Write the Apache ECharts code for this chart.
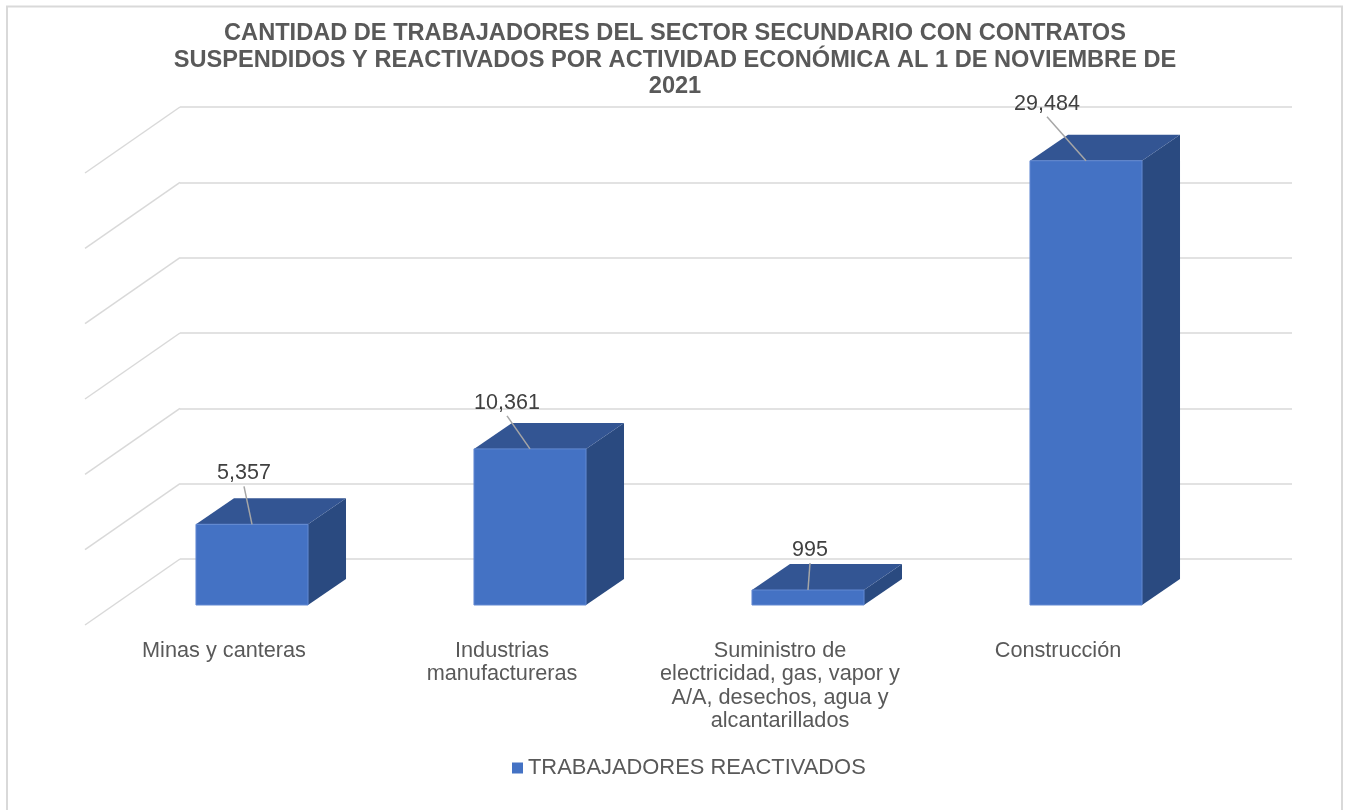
<!DOCTYPE html>
<html>
<head>
<meta charset="utf-8">
<title>Trabajadores reactivados</title>
<script src="https://cdn.jsdelivr.net/npm/echarts@6/dist/echarts.min.js"></script>
<style>
	html, body { margin: 0; padding: 0; background: #fff; }
	#chart { width: 1349px; height: 810px; }
</style>
</head>
<body>
<div id="chart"></div>
<script>
const titleLines = [
	'CANTIDAD DE TRABAJADORES DEL SECTOR SECUNDARIO CON CONTRATOS',
	'SUSPENDIDOS Y REACTIVADOS POR ACTIVIDAD ECONÓMICA AL 1 DE NOVIEMBRE DE',
	'2021'
];
const categories = [
	'Minas y canteras',
	'Industrias\nmanufactureras',
	'Suministro de\nelectricidad, gas, vapor y\nA/A, desechos, agua y\nalcantarillados',
	'Construcción'
];
const seriesName = 'TRABAJADORES REACTIVADOS';
const reactivados = [5357, 10361, 995, 29484];
const wallTicks = [0, 5000, 10000, 15000, 20000, 25000, 30000];

//desplazamiento de la etiqueta respecto al centro de la cara superior
const labelShift = [[-8, -51], [-23, -46], [2, -40], [-39, -57]];

//perspectiva: cuanto se mueve un punto del plano de las barras hacia el fondo
const barDepth = [38, -26];
const wallBack = [67, -46];
const wallFront = [-28, 20];
const barRatio = 0.403;

const colorFront = '#4472c4';
const colorEdge = '#6289d2';
const colorTop = '#335593';
const colorSide = '#2a4a80';
const colorGrid = '#d9d9d9';
const colorText = '#595959';
const fontName = '"Liberation Sans", Arial, sans-serif';

//paredes laterales (lineas diagonales)
function renderWall(params, api) {
	const p = api.coord([0, api.value(0)]);
	const left = p[0] - api.size([1, 0])[0] / 2;
	return {
		type: 'line',
		shape: {
			x1: left + wallFront[0],
			y1: p[1] + wallFront[1],
			x2: left + wallBack[0],
			y2: p[1] + wallBack[1]
		},
		style: { stroke: colorGrid, lineWidth: 1.5 }
	};
}

//barra 3D: frente, tapa, costado, linea guia y etiqueta
function renderBar(params, api) {
	const i = api.value(0);
	const top = api.coord([i, api.value(1)]);
	const base = api.coord([i, 0]);
	const w = api.size([1, 0])[0] * barRatio;
	const x0 = top[0] - w / 2;
	const x1 = top[0] + w / 2;
	const dx = barDepth[0];
	const dy = barDepth[1];
	const shift = labelShift[i];
	const lx = top[0] + shift[0];
	const ly = top[1] + shift[1];
	return {
		type: 'group',
		children: [
			{
				type: 'polygon',
				shape: { points: [[x1, top[1]], [x1 + dx, top[1] + dy], [x1 + dx, base[1] + dy], [x1, base[1]]] },
				style: { fill: colorSide }
			},
			{
				type: 'polygon',
				shape: { points: [[x0, top[1]], [x0 + dx, top[1] + dy], [x1 + dx, top[1] + dy], [x1, top[1]]] },
				style: { fill: colorTop }
			},
			{
				type: 'rect',
				shape: { x: x0, y: top[1], width: w, height: base[1] - top[1] },
				style: { fill: colorFront, stroke: colorEdge, lineWidth: 1 }
			},
			{
				type: 'line',
				shape: { x1: lx, y1: ly + 13, x2: top[0], y2: top[1] },
				style: { stroke: '#a6a6a6', lineWidth: 1.5 }
			},
			{
				type: 'text',
				style: {
					x: lx,
					y: ly,
					text: api.value(1).toLocaleString('en-US'),
					fill: '#404040',
					font: '21.5px ' + fontName,
					align: 'center',
					verticalAlign: 'middle'
				}
			}
		]
	};
}

const chart = echarts.init(document.getElementById('chart'));
chart.setOption({
	animation: false,
	backgroundColor: '#fff',
	title: {
		text: titleLines.join('\n'),
		left: 670,
		top: 15.5,
		textAlign: 'center',
		textStyle: {
			color: colorText,
			fontFamily: fontName,
			fontWeight: 'bold',
			fontSize: 23.6,
			lineHeight: 26.5
		}
	},
	legend: {
		data: [seriesName],
		left: 507,
		top: 752,
		icon: 'rect',
		itemWidth: 11,
		itemHeight: 11,
		selectedMode: false,
		textStyle: { color: colorText, fontFamily: fontName, fontSize: 21.9 }
	},
	//0: borde del piso (etiquetas), 1: plano de las barras, 2: pared del fondo
	grid: [
		{ left: 85, top: 173, width: 1112, height: 452, outerBoundsMode: 'none' },
		{ left: 113, top: 153, width: 1112, height: 452, outerBoundsMode: 'none' },
		{ left: 180, top: 107, width: 1112, height: 452, outerBoundsMode: 'none' }
	],
	xAxis: [
		{
			type: 'category',
			gridIndex: 0,
			data: categories,
			axisLine: { show: false },
			axisTick: { show: false },
			axisLabel: {
				interval: 0,
				margin: 14,
				color: colorText,
				fontFamily: fontName,
				fontSize: 21.7,
				lineHeight: 23.5
			}
		},
		{ type: 'category', gridIndex: 1, data: categories, show: false },
		{ type: 'category', gridIndex: 2, data: categories, show: false }
	],
	yAxis: [
		{ type: 'value', gridIndex: 0, min: 0, max: 30000, interval: 5000, show: false },
		{ type: 'value', gridIndex: 1, min: 0, max: 30000, interval: 5000, show: false },
		{
			type: 'value',
			gridIndex: 2,
			min: 0,
			max: 30000,
			interval: 5000,
			axisLine: { show: false },
			axisTick: { show: false },
			axisLabel: { show: false },
			splitLine: { show: true, lineStyle: { color: colorGrid, width: 1.5 } }
		}
	],
	series: [
		{
			type: 'custom',
			name: 'paredes',
			xAxisIndex: 1,
			yAxisIndex: 1,
			silent: true,
			renderItem: renderWall,
			encode: { y: 0 },
			data: wallTicks.map(function(v) { return [v]; }),
			z: 1
		},
		{
			type: 'custom',
			name: seriesName,
			xAxisIndex: 1,
			yAxisIndex: 1,
			itemStyle: { color: colorFront },
			renderItem: renderBar,
			encode: { x: 0, y: 1 },
			data: reactivados.map(function(v, i) { return [i, v]; }),
			z: 3
		}
	],
	graphic: [{
		type: 'rect',
		silent: true,
		z: -1,
		shape: { x: 7, y: 6.5, width: 1335, height: 820 },
		style: { fill: 'none', stroke: '#d9d9d9', lineWidth: 2 }
	}]
});
</script>
</body>
</html>
